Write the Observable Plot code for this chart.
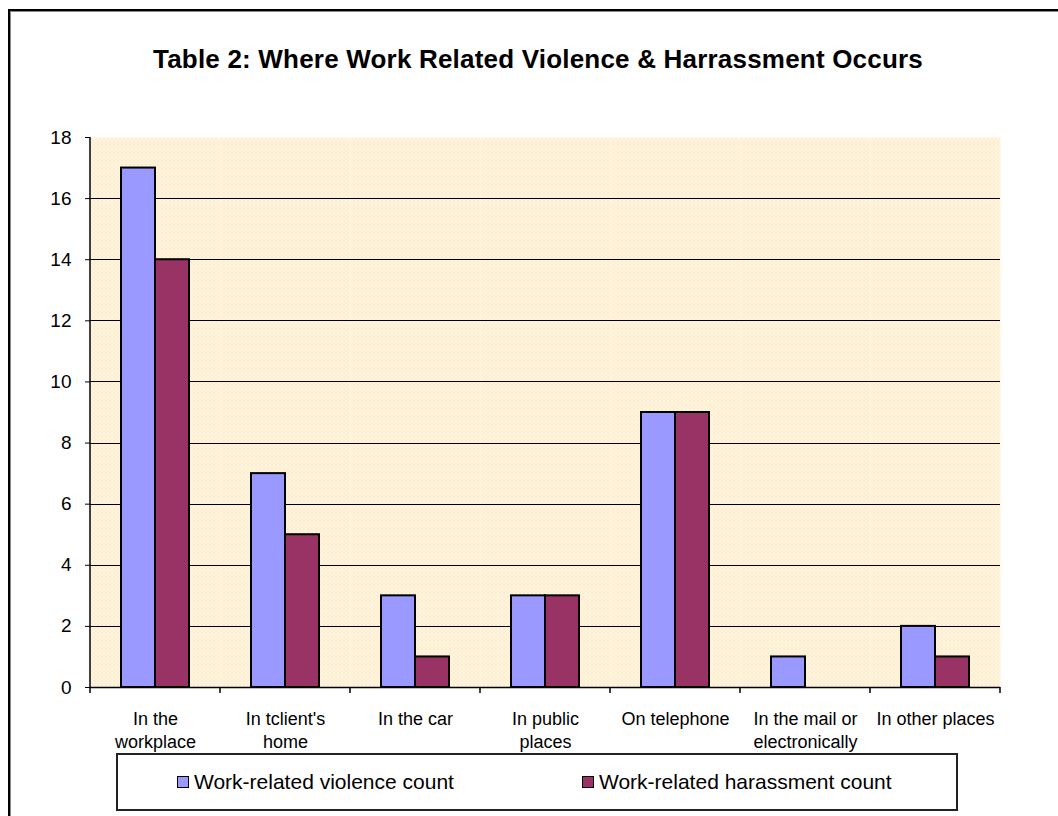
<!DOCTYPE html>
<html><head><meta charset="utf-8">
<script src="https://cdn.jsdelivr.net/npm/d3@7"></script>
<script src="https://cdn.jsdelivr.net/npm/@observablehq/plot@0.6"></script>
<style>
body{margin:0;background:#fff;}
#wrap{position:relative;width:1058px;height:816px;overflow:hidden;font-family:"Liberation Sans",Arial,sans-serif;background:#fff;}
#border{position:absolute;left:8px;top:9px;width:1300px;height:1000px;border-top:2px solid #000;border-left:2px solid #000;box-shadow:inset 1px 1px 0 #888;}
#title{position:absolute;left:0;width:1076px;top:44px;text-align:center;font-weight:bold;font-size:26px;letter-spacing:0.2px;color:#000;white-space:nowrap;}
#chart{position:absolute;left:0;top:100px;}
#legend{position:absolute;left:116px;top:753px;width:842px;height:58px;box-sizing:border-box;border:2px solid #222;background:#fff;}
.item{position:absolute;top:0;height:54px;display:flex;align-items:center;font-size:21px;color:#000;white-space:nowrap;}
.sw{width:10px;height:10px;border:1px solid #000;margin-right:5px;}
</style></head>
<body><div id="wrap"><div id="border"></div><div id="title"></div><div id="chart"></div><div id="legend"></div></div>
<script>
const title = "Table 2: Where Work Related Violence & Harrassment Occurs";
const categories = ["In the\nworkplace", "In tclient's\nhome", "In the car", "In public\nplaces", "On telephone", "In the mail or\nelectronically", "In other places"];
const series = ["Work-related violence count", "Work-related harassment count"];
const violence = [17, 7, 3, 3, 9, 1, 2];
const harassment = [14, 5, 1, 3, 9, 0, 1];
const yTicks = [0, 2, 4, 6, 8, 10, 12, 14, 16, 18];
const gridValues = [2, 4, 6, 8, 10, 12, 14, 16];

const colors = ["#9999FF", "#993366"];

const rows = [];
categories.forEach((c, i) => {
  rows.push({cat: c, series: series[0], value: violence[i]});
  rows.push({cat: c, series: series[1], value: harassment[i]});
});

document.getElementById("title").textContent = title;

const chart = Plot.plot({
  width: 1058,
  height: 647,
  marginLeft: 89,
  marginRight: 58,
  marginTop: 37,
  marginBottom: 60,
  style: {fontFamily: "'Liberation Sans', Arial, sans-serif", background: "transparent", color: "#000", overflow: "visible"},
  fx: {domain: categories, padding: 0, label: null},
  x: {domain: series, paddingInner: 0, paddingOuter: 0.86, axis: null},
  y: {domain: [0, 18], label: null},
  color: {domain: series, range: colors},
  marks: [
    Plot.frame({fill: "url(#bgpat)", stroke: "none"}),
    Plot.ruleY(gridValues, {stroke: "#000", strokeWidth: 1, shapeRendering: "crispEdges"}),
    Plot.barY(rows.filter(d => d.value > 0), {fx: "cat", x: "series", y: "value", fill: "series", stroke: "#000", strokeWidth: 2}),
    Plot.ruleY([0], {stroke: "#000", strokeWidth: 1.5}),
    Plot.axisY({ticks: yTicks, tickSize: 5, tickPadding: 14, fontSize: 19, label: null, tickFormat: d => String(d)}),
    Plot.axisFx({anchor: "bottom", tickSize: 0, tickPadding: 21, fontSize: 18, lineHeight: 1.28, label: null})
  ]
});
document.getElementById("chart").appendChild(chart);

// background stipple pattern
const svg = d3.select(chart);
const defs = svg.insert("defs", ":first-child");
const pat = defs.append("pattern").attr("id", "bgpat").attr("width", 4).attr("height", 4).attr("patternUnits", "userSpaceOnUse");
pat.append("rect").attr("width", 4).attr("height", 4).attr("fill", "#FFF6D4");
pat.append("rect").attr("x", 0).attr("y", 0).attr("width", 1).attr("height", 1).attr("fill", "#FBC6E2");
pat.append("rect").attr("x", 2).attr("y", 2).attr("width", 1).attr("height", 1).attr("fill", "#F8D0EC");
pat.append("rect").attr("x", 2).attr("y", 0).attr("width", 1).attr("height", 1).attr("fill", "#FFFFE2");

// y axis line and category boundary ticks from the scales
const fx = chart.scale("fx"), y = chart.scale("y");
const y0 = y.apply(0), y1 = y.apply(18);
const bounds = categories.map(c => fx.apply(c));
bounds.push(fx.apply(categories[categories.length - 1]) + fx.bandwidth);
const g = svg.append("g").attr("stroke", "#000").attr("stroke-width", 1.5);
g.append("line").attr("x1", bounds[0]).attr("x2", bounds[0]).attr("y1", y0).attr("y2", y1);
bounds.forEach(b => g.append("line").attr("x1", b).attr("x2", b).attr("y1", y0).attr("y2", y0 + 6));

// legend
const legend = d3.select("#legend");
const legendLeft = [59, 464];
series.forEach((s, i) => {
  const it = legend.append("div").attr("class", "item").style("left", legendLeft[i] + "px");
  it.append("div").attr("class", "sw").style("background", colors[i]);
  it.append("span").text(s);
});
</script>
</body></html>
